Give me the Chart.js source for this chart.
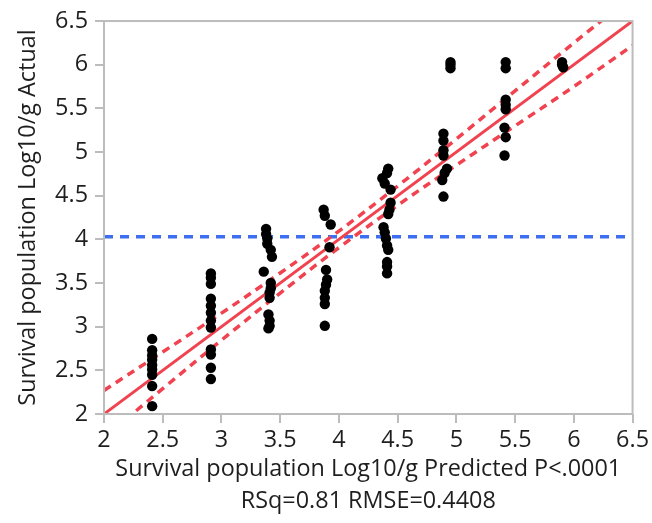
<!DOCTYPE html>
<html>
<head>
<meta charset="utf-8">
<script src="https://cdn.jsdelivr.net/npm/chart.js@4/dist/chart.umd.min.js"></script>
<style>
  html, body { margin: 0; padding: 0; background: #ffffff; }
  #wrap { width: 652px; height: 523px; position: relative; }
</style>
</head>
<body>
<div id="wrap"><canvas id="c" width="652" height="523"></canvas></div>
<script>
// ---- Data ----
const predicted = [
  2.41, 2.41, 2.41, 2.41, 2.41, 2.41, 2.41, 2.41, 2.41,
  2.91, 2.91, 2.91, 2.91, 2.91, 2.91, 2.91, 2.91, 2.91, 2.91, 2.91, 2.91,
  3.38, 3.38, 3.39, 3.39, 3.42, 3.43, 3.36, 3.42, 3.42, 3.41, 3.41, 3.40, 3.41, 3.41, 3.40,
  3.87, 3.88, 3.93, 3.92, 3.89, 3.90, 3.89, 3.88, 3.88, 3.88, 3.88,
  4.42, 4.41, 4.37, 4.39, 4.44, 4.44, 4.43, 4.42, 4.38, 4.39, 4.40, 4.41, 4.42, 4.41, 4.41, 4.41,
  4.89, 4.89, 4.89, 4.89, 4.92, 4.90, 4.88, 4.89,
  4.95, 4.95, 4.95,
  5.42, 5.42, 5.42, 5.42, 5.42, 5.41, 5.42, 5.41,
  5.90, 5.90, 5.91
];
const actual = [
  2.86, 2.73, 2.67, 2.62, 2.56, 2.51, 2.45, 2.32, 2.09,
  3.61, 3.56, 3.49, 3.32, 3.24, 3.16, 3.07, 2.99, 2.74, 2.68, 2.53, 2.40,
  4.12, 4.06, 4.01, 3.95, 3.88, 3.80, 3.63, 3.50, 3.44, 3.39, 3.33, 3.14, 3.07, 3.01, 2.98,
  4.34, 4.27, 4.17, 3.91, 3.65, 3.54, 3.48, 3.41, 3.33, 3.26, 3.01,
  4.81, 4.76, 4.70, 4.64, 4.57, 4.42, 4.34, 4.29, 4.14, 4.08, 4.01, 3.93, 3.88, 3.74, 3.69, 3.61,
  5.21, 5.13, 5.02, 4.96, 4.81, 4.76, 4.68, 4.49,
  6.03, 6.00, 5.96,
  6.03, 5.96, 5.60, 5.54, 5.49, 5.28, 5.17, 4.96,
  6.03, 6.00, 5.97
];
// fit line end points and confidence band
const fitX = [2, 6.5];
const fitY = [2, 6.5];
const bandX = [2, 2.5, 3, 3.5, 4, 4.5, 5, 5.5, 6, 6.5];
const bandUpper = [2.27, 2.71, 3.155, 3.615, 4.095, 4.61, 5.15, 5.70, 6.25, 6.79];
const bandLower = [1.73, 2.29, 2.845, 3.385, 3.905, 4.39, 4.85, 5.30, 5.75, 6.22];
const meanActual = 4.03;
const meanX = [2, 6.5];
const xTickValues = [2, 2.5, 3, 3.5, 4, 4.5, 5, 5.5, 6, 6.5];
const yTickValues = [2, 2.5, 3, 3.5, 4, 4.5, 5, 5.5, 6, 6.5];
const xTitle = ['Survival population Log10/g Predicted P<.0001', 'RSq=0.81 RMSE=0.4408'];
const yTitle = 'Survival population Log10/g Actual';

// ---- Build datasets ----
const pts = predicted.map((x, i) => ({ x: x, y: actual[i] }));
const fitPts = fitX.map((x, i) => ({ x: x, y: fitY[i] }));
const upPts = bandX.map((x, i) => ({ x: x, y: bandUpper[i] }));
const loPts = bandX.map((x, i) => ({ x: x, y: bandLower[i] }));
const meanPts = meanX.map(x => ({ x: x, y: meanActual }));

const FONT = '"Open Sans", "Noto Sans", sans-serif';
const FS = 23.4;
const GRAY = '#bcbcbc';
const RED = '#f0424f';
const TXT = '#1e1e1e';

const framePlugin = {
  id: 'frame',
  afterDatasetsDraw(chart) {
    const a = chart.chartArea, ctx = chart.ctx;
    ctx.save();
    ctx.strokeStyle = GRAY;
    ctx.lineWidth = 2;
    ctx.strokeRect(a.left, a.top, a.right - a.left, a.bottom - a.top);
    ctx.restore();
  }
};

new Chart(document.getElementById('c'), {
  type: 'scatter',
  data: {
    datasets: [
      { type: 'line', data: meanPts, borderColor: '#3d6ff0', borderWidth: 3.5, borderDash: [9, 7],
        pointRadius: 0, fill: false, clip: 0, order: 4 },
      { type: 'line', data: upPts, borderColor: RED, borderWidth: 3.5, borderDash: [8, 6],
        pointRadius: 0, fill: false, tension: 0.4, clip: 0, order: 3 },
      { type: 'line', data: loPts, borderColor: RED, borderWidth: 3.5, borderDash: [8, 6],
        pointRadius: 0, fill: false, tension: 0.4, clip: 0, order: 3 },
      { type: 'line', data: fitPts, borderColor: RED, borderWidth: 3,
        pointRadius: 0, fill: false, clip: 0, order: 2 },
      { type: 'scatter', data: pts, backgroundColor: '#000000', borderColor: '#000000',
        pointRadius: 5.2, borderWidth: 0, order: 1 }
    ]
  },
  options: {
    responsive: false,
    animation: false,
    devicePixelRatio: 1,
    layout: { padding: { top: 15, right: 18, left: 0, bottom: 0 } },
    plugins: { legend: { display: false }, tooltip: { enabled: false } },
    scales: {
      x: {
        type: 'linear', min: 2, max: 6.5,
        afterBuildTicks: s => { s.ticks = xTickValues.map(v => ({ value: v })); },
        afterFit: s => { s.height = 109; },
        grid: { drawOnChartArea: false, drawTicks: true, tickLength: 9, tickColor: GRAY, lineWidth: 2 },
        border: { display: false },
        ticks: { color: TXT, font: { family: FONT, size: FS }, padding: 3, maxRotation: 0, autoSkip: false,
                 callback: v => String(v) },
        title: { display: true, text: xTitle, color: TXT, font: { family: FONT, size: FS, lineHeight: 32 / FS },
                 padding: { bottom: 6, top: 0 } }
      },
      y: {
        type: 'linear', min: 2, max: 6.5,
        afterBuildTicks: s => { s.ticks = yTickValues.map(v => ({ value: v })); },
        afterFit: s => { s.width = 104; },
        grid: { drawOnChartArea: false, drawTicks: true, tickLength: 9, tickColor: GRAY, lineWidth: 2 },
        border: { display: false },
        ticks: { color: TXT, font: { family: FONT, size: FS }, padding: 7, autoSkip: false,
                 callback: v => String(v) },
        title: { display: true, text: yTitle, color: TXT, font: { family: FONT, size: FS, lineHeight: 1.2 },
                 padding: { top: 14, bottom: 0 } }
      }
    }
  },
  plugins: [framePlugin]
});
</script>
</body>
</html>
